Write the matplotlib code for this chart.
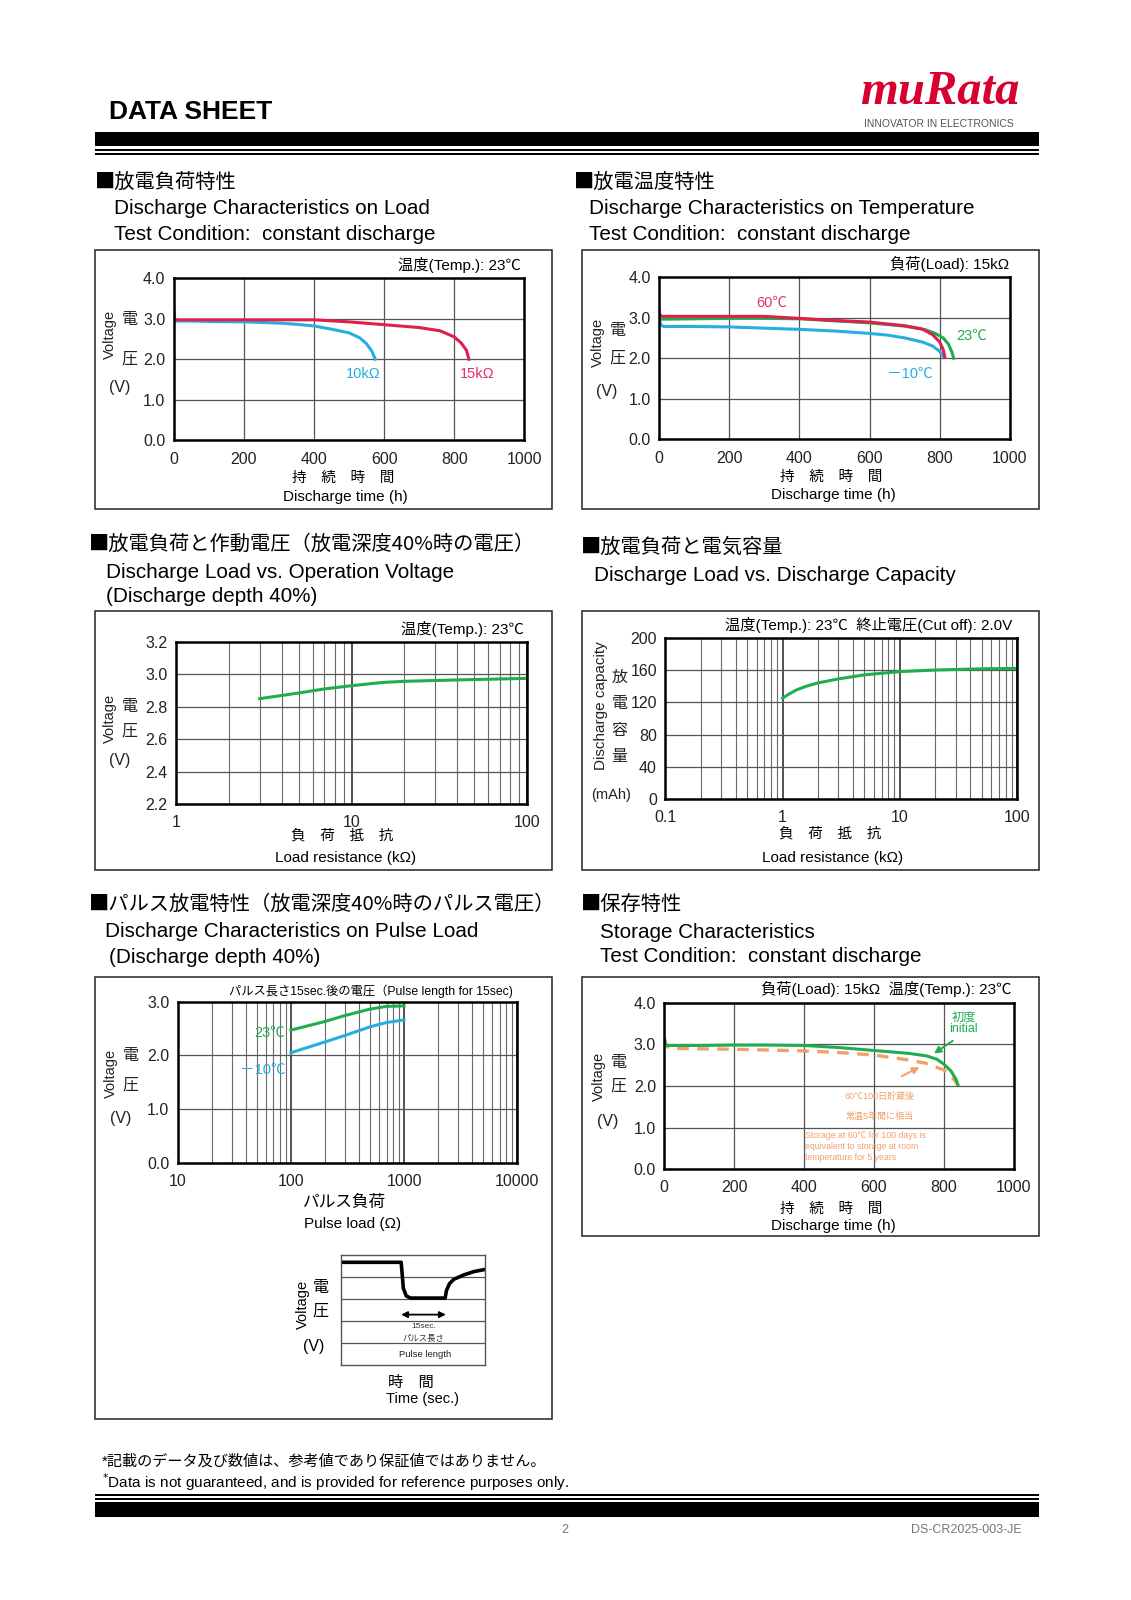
import matplotlib
matplotlib.use("Agg")
import matplotlib.pyplot as plt
from matplotlib.patches import Rectangle
from matplotlib.transforms import ScaledTranslation
from matplotlib.ticker import LogLocator, NullFormatter

plt.rcParams['font.family'] = ['Liberation Sans', 'Noto Sans CJK JP', 'DejaVu Sans']
JP = ['Noto Sans CJK JP', 'Liberation Sans']

# --- data ---
# 放電負荷特性 (23C)
load_10k_t = [0, 3, 50, 100, 200, 300, 350, 400, 450, 500, 530, 550, 565, 575]
load_10k_v = [2.96, 2.94, 2.94, 2.93, 2.92, 2.89, 2.86, 2.82, 2.74, 2.65, 2.53, 2.38, 2.20, 2.00]
load_15k_t = [0, 2, 6, 100, 200, 300, 400, 500, 600, 700, 760, 800, 820, 835, 842]
load_15k_v = [3.22, 3.02, 2.97, 2.97, 2.97, 2.97, 2.97, 2.92, 2.85, 2.78, 2.70, 2.55, 2.40, 2.22, 2.00]

# 放電温度特性 (15kOhm)
temp_60_t = [0, 2, 8, 100, 200, 300, 400, 500, 600, 700, 750, 780, 800, 810, 815]
temp_60_v = [3.18, 3.06, 3.03, 3.03, 3.03, 3.03, 2.98, 2.93, 2.89, 2.80, 2.72, 2.58, 2.40, 2.22, 2.02]
temp_23_t = [0, 5, 100, 200, 300, 400, 500, 600, 700, 760, 790, 810, 825, 835, 840]
temp_23_v = [2.98, 2.96, 2.97, 2.98, 2.98, 2.97, 2.92, 2.87, 2.79, 2.70, 2.60, 2.50, 2.35, 2.15, 2.00]
temp_m10_t = [0, 5, 12, 100, 200, 300, 400, 500, 600, 650, 700, 750, 780, 800, 812]
temp_m10_v = [2.96, 2.82, 2.78, 2.78, 2.77, 2.74, 2.71, 2.67, 2.61, 2.57, 2.50, 2.40, 2.30, 2.17, 2.02]

# 放電負荷と作動電圧
opv_load = [3, 5, 7, 10, 15, 20, 30, 50, 100]
opv_v = [2.85, 2.885, 2.91, 2.93, 2.95, 2.957, 2.962, 2.968, 2.975]

# 放電負荷と電気容量
cap_load = [1.0, 1.1, 1.3, 1.6, 2, 3, 5, 10, 20, 50, 100]
cap_mah = [125, 129, 135, 140, 144, 149, 154, 158, 160, 161.5, 162]

# パルス放電特性
pulse_load = [100, 200, 300, 500, 700, 1000]
pulse_23 = [2.47, 2.63, 2.74, 2.86, 2.91, 2.92]
pulse_m10 = [2.05, 2.25, 2.37, 2.53, 2.61, 2.66]

# pulse waveform sketch (time fraction, row units)
wave_t = [0, 0.415, 0.42, 0.43, 0.45, 0.48, 0.72, 0.73, 0.75, 0.78, 0.85, 0.92, 1.0]
wave_v = [4.67, 4.67, 4.3, 3.5, 3.15, 3.05, 3.05, 3.4, 3.7, 3.9, 4.1, 4.25, 4.35]

# 保存特性
stor_init_t = [0, 3, 10, 100, 200, 300, 400, 500, 600, 700, 750, 780, 800, 820, 835, 840]
stor_init_v = [3.15, 3.0, 2.97, 2.97, 2.98, 2.98, 2.97, 2.92, 2.85, 2.78, 2.72, 2.64, 2.52, 2.36, 2.15, 2.03]
stor_aged_t = [0, 5, 20, 100, 200, 300, 400, 500, 600, 700, 750, 800, 820, 840]
stor_aged_v = [3.15, 2.95, 2.90, 2.89, 2.88, 2.86, 2.84, 2.80, 2.74, 2.62, 2.54, 2.38, 2.25, 2.02]

time_ticks = [0, 200, 400, 600, 800, 1000]
volt_ticks = [0, 1, 2, 3, 4]
volt_labels = ['0.0', '1.0', '2.0', '3.0', '4.0']

CYAN = '#27aee0'
RED = '#df1f4c'
GREEN = '#1fae4f'
ORANGE = '#f2a06a'
TICK = 11.5

W, H = 1131, 1600
S = 1.022  # layout was measured on a slightly shrunk view
fig = plt.figure(figsize=(W / 100, H / 100), dpi=100)


def fx(x):
    return x * S / W


def fy(y):
    return 1 - y * S / H


def txt(x, y, s, size=11, ha='left', va='center', **kw):
    fig.text(fx(x), fy(y), s, fontsize=size, ha=ha, va=va, **kw)


def jtxt(x, y, s, size=14.6, **kw):
    txt(x, y, s, size=size, family=JP, **kw)


def bar(x0, y0, x1, y1):
    fig.add_artist(Rectangle((fx(x0), fy(y1)), (x1 - x0) * S / W, (y1 - y0) * S / H,
                             transform=fig.transFigure, fc='black', ec='none'))


def box(x0, y0, x1, y1):
    fig.add_artist(Rectangle((fx(x0), fy(y1)), (x1 - x0) * S / W, (y1 - y0) * S / H,
                             transform=fig.transFigure, fill=False, lw=1.1, ec='#222222'))


def make_ax(x0, y0, x1, y1):
    ax = fig.add_axes([fx(x0), fy(y1), (x1 - x0) * S / W, (y1 - y0) * S / H])
    for sp in ax.spines.values():
        sp.set_linewidth(1.8)
    ax.tick_params(length=0, labelsize=TICK, pad=6, labelcolor='#222222')
    ax.tick_params(axis='x', pad=8)
    return ax


def lin_grid(ax):
    ax.grid(True, color='#555555', lw=0.9)
    ax.set_axisbelow(True)


def log_grid(ax):
    ax.xaxis.set_minor_locator(LogLocator(base=10, subs=range(2, 10)))
    ax.xaxis.set_minor_formatter(NullFormatter())
    ax.tick_params(which='minor', length=0)
    ax.grid(True, which='major', axis='x', color='#222222', lw=1.1)
    ax.grid(True, which='minor', axis='x', color='#6a6a6a', lw=0.8)
    ax.grid(True, which='major', axis='y', color='#555555', lw=0.9)
    ax.set_axisbelow(True)


def side(ax, s, dx, yv, rot=0, size=11.5):
    tr = ax.get_yaxis_transform() + ScaledTranslation(dx * S / 100, 0, fig.dpi_scale_trans)
    ax.text(0, yv, s, transform=tr, rotation=rot, ha='center', va='center',
            fontsize=size, clip_on=False, color='#222222')


def volt_side(ax, dx, vy, dy, ay, vvy, vsize=10.5):
    side(ax, 'Voltage', dx - 19, vy, rot=90, size=vsize)
    side(ax, '電', dx, dy)
    side(ax, '圧', dx, ay)
    side(ax, '(V)', dx - 10, vvy)


# --- header ---
txt(107, 110, 'DATA SHEET', size=19, weight='bold')
txt(920, 90, 'muRata', size=35, ha='center', color='#d8002e', weight='bold',
    style='italic', family='Liberation Serif')
txt(919, 121, 'INNOVATOR IN ELECTRONICS', size=7.5, ha='center', color='#555555')
bar(93, 129, 1017, 143)
bar(93, 146, 1017, 148)
bar(93, 150, 1017, 152)

# --- section titles ---
EN = 14.9
jtxt(93, 178, '■放電負荷特性')
txt(112, 204, 'Discharge Characteristics on Load', size=EN)
txt(112, 229, 'Test Condition:  constant discharge', size=EN)
jtxt(562, 178, '■放電温度特性')
txt(576, 204, 'Discharge Characteristics on Temperature', size=EN)
txt(576, 229, 'Test Condition:  constant discharge', size=EN)

jtxt(87, 533, '■放電負荷と作動電圧（放電深度40%時の電圧）')
txt(104, 560, 'Discharge Load vs. Operation Voltage', size=EN)
txt(104, 584, '(Discharge depth 40%)', size=EN)
jtxt(568, 536, '■放電負荷と電気容量')
txt(581, 563, 'Discharge Load vs. Discharge Capacity', size=EN)

jtxt(87, 885, '■パルス放電特性（放電深度40%時のパルス電圧）')
txt(103, 911, 'Discharge Characteristics on Pulse Load', size=EN)
txt(107, 937, '(Discharge depth 40%)', size=EN)
jtxt(568, 885, '■保存特性')
txt(587, 912, 'Storage Characteristics', size=EN)
txt(587, 936, 'Test Condition:  constant discharge', size=EN)

# --- frames ---
box(93, 245, 540, 498)
box(569, 245, 1017, 498)
box(93, 598, 540, 851)
box(569, 598, 1017, 851)
box(93, 956, 540, 1388)
box(569, 956, 1017, 1209)

# --- chart 1: discharge on load ---
ax1 = make_ax(170, 272, 513, 431)
ax1.plot(load_10k_t, load_10k_v, color=CYAN, lw=2.2)
ax1.plot(load_15k_t, load_15k_v, color=RED, lw=2.2)
ax1.set_xlim(0, 1000)
ax1.set_ylim(0, 4)
ax1.set_xticks(time_ticks, labels=[str(t) for t in time_ticks])
ax1.set_yticks(volt_ticks, labels=volt_labels)
lin_grid(ax1)
ax1.text(540, 1.64, '10kΩ', color=CYAN, fontsize=10.5, ha='center', va='center')
ax1.text(866, 1.64, '15kΩ', color='#e0306a', fontsize=10.5, ha='center', va='center')
volt_side(ax1, -43, 2.6, 2.98, 2.0, 1.3)
txt(510, 259, '温度(Temp.): 23℃', size=11, ha='right')
txt(336, 468, '持　続　時　間', size=10.5, ha='center')
txt(338, 486, 'Discharge time (h)', size=11, ha='center')

# --- chart 2: discharge on temperature ---
ax2 = make_ax(645, 271, 988, 430)
ax2.plot(temp_m10_t, temp_m10_v, color=CYAN, lw=2.2)
ax2.plot(temp_23_t, temp_23_v, color=GREEN, lw=2.2)
ax2.plot(temp_60_t, temp_60_v, color=RED, lw=2.2)
ax2.set_xlim(0, 1000)
ax2.set_ylim(0, 4)
ax2.set_xticks(time_ticks, labels=[str(t) for t in time_ticks])
ax2.set_yticks(volt_ticks, labels=volt_labels)
lin_grid(ax2)
ax2.text(321, 3.37, '60℃', color='#e0306a', fontsize=10.5, ha='center', va='center')
ax2.text(892, 2.54, '23℃', color=GREEN, fontsize=10.5, ha='center', va='center')
ax2.text(714, 1.61, '－10℃', color=CYAN, fontsize=10.5, ha='center', va='center')
volt_side(ax2, -41, 2.38, 2.67, 2.0, 1.19)
txt(987, 258, '負荷(Load): 15kΩ', size=11, ha='right')
txt(813, 467, '持　続　時　間', size=10.5, ha='center')
txt(815, 484, 'Discharge time (h)', size=11, ha='center')

# --- chart 3: load vs operation voltage ---
ax3 = make_ax(172, 628, 516, 787)
ax3.set_xscale('log')
ax3.plot(opv_load, opv_v, color=GREEN, lw=2.2)
ax3.set_xlim(1, 100)
ax3.set_ylim(2.2, 3.2)
ax3.set_xticks([1, 10, 100], labels=['1', '10', '100'])
ax3.set_yticks([2.2, 2.4, 2.6, 2.8, 3.0, 3.2], labels=['2.2', '2.4', '2.6', '2.8', '3.0', '3.2'])
log_grid(ax3)
volt_side(ax3, -45, 2.73, 2.8, 2.65, 2.47)
txt(512, 615, '温度(Temp.): 23℃', size=11, ha='right')
txt(335, 818, '負　荷　抵　抗', size=10.5, ha='center')
txt(338, 840, 'Load resistance (kΩ)', size=11, ha='center')

# --- chart 4: load vs capacity ---
ax4 = make_ax(651, 624, 995, 782)
ax4.set_xscale('log')
ax4.plot(cap_load, cap_mah, color=GREEN, lw=2.2)
ax4.set_xlim(0.1, 100)
ax4.set_ylim(0, 200)
ax4.set_xticks([0.1, 1, 10, 100], labels=['0.1', '1', '10', '100'])
ax4.set_yticks([0, 40, 80, 120, 160, 200], labels=['0', '40', '80', '120', '160', '200'])
log_grid(ax4)
side(ax4, 'Discharge capacity', -63, 116, rot=90, size=11)
side(ax4, '放', -45, 151)
side(ax4, '電', -45, 118)
side(ax4, '容', -45, 85)
side(ax4, '量', -45, 53)
side(ax4, '(mAh)', -53, 5, size=10.5)
txt(990, 612, '温度(Temp.): 23℃  終止電圧(Cut off): 2.0V', size=11, ha='right')
txt(812, 816, '負　荷　抵　抗', size=10.5, ha='center')
txt(815, 840, 'Load resistance (kΩ)', size=11, ha='center')

# --- chart 5: pulse load ---
ax5 = make_ax(174, 980, 506, 1138)
ax5.set_xscale('log')
ax5.plot(pulse_load, pulse_23, color=GREEN, lw=2.2)
ax5.plot(pulse_load, pulse_m10, color=CYAN, lw=2.2)
ax5.set_xlim(10, 10000)
ax5.set_ylim(0, 3)
ax5.set_xticks([10, 100, 1000, 10000], labels=['10', '100', '1000', '10000'])
ax5.set_yticks([0, 1, 2, 3], labels=['0.0', '1.0', '2.0', '3.0'])
log_grid(ax5)
ax5.text(89, 2.41, '23℃', color=GREEN, fontsize=10.5, ha='right', va='center')
ax5.text(89, 1.73, '－10℃', color=CYAN, fontsize=10.5, ha='right', va='center')
volt_side(ax5, -46, 1.67, 2.0, 1.45, 0.83)
txt(502, 970, 'パルス長さ15sec.後の電圧（Pulse length for 15sec)', size=8.8, ha='right')
txt(337, 1176, 'パルス負荷', size=12, ha='center')
txt(345, 1198, 'Pulse load (Ω)', size=11, ha='center')

# pulse waveform inset
axi = fig.add_axes([fx(334), fy(1336), (475 - 334) * S / W, (1336 - 1228) * S / H])
axi.plot(wave_t, wave_v, color='black', lw=2.6)
axi.set_xlim(0, 1)
axi.set_ylim(0, 5)
axi.set_xticks([])
axi.set_yticks([1, 2, 3, 4])
axi.tick_params(length=0, labelleft=False)
axi.grid(True, axis='y', color='#555555', lw=0.9)
for sp in axi.spines.values():
    sp.set_linewidth(1.0)
    sp.set_color('#555555')
axi.annotate('', xy=(0.415, 2.3), xytext=(0.725, 2.3),
             arrowprops=dict(arrowstyle='<|-|>', color='black', lw=1.3, mutation_scale=9,
                             shrinkA=0, shrinkB=0))
axi.text(0.57, 1.75, '15sec.', fontsize=6, ha='center', va='center', color='#333333')
axi.text(0.57, 1.25, 'パルス長さ', fontsize=6, ha='center', va='center', color='#333333')
axi.text(0.58, 0.5, 'Pulse length', fontsize=6.8, ha='center', va='center', color='#222222')
txt(296, 1276, 'Voltage', size=10.5, ha='center', rotation=90)
txt(314, 1260, '電', size=11.5, ha='center')
txt(314, 1283, '圧', size=11.5, ha='center')
txt(307, 1318, '(V)', size=11.5, ha='center')
txt(402, 1353, '時　間', size=11, ha='center')
txt(413, 1369, 'Time (sec.)', size=10.5, ha='center')

# --- chart 6: storage ---
ax6 = make_ax(650, 981, 992, 1144)
ax6.plot(stor_aged_t, stor_aged_v, color=ORANGE, lw=2.4, ls=(0, (3.5, 2.5)))
ax6.plot(stor_init_t, stor_init_v, color=GREEN, lw=2.2)
ax6.set_xlim(0, 1000)
ax6.set_ylim(0, 4)
ax6.set_xticks(time_ticks, labels=[str(t) for t in time_ticks])
ax6.set_yticks(volt_ticks, labels=volt_labels)
lin_grid(ax6)
ax6.text(857, 3.5, '初度\ninitial', color=GREEN, fontsize=8.8, ha='center', va='center',
         linespacing=1.0)
ax6.annotate('', xy=(765, 2.74), xytext=(832, 3.12),
             arrowprops=dict(arrowstyle='-|>', color=GREEN, lw=1.4, mutation_scale=10))
ax6.annotate('', xy=(737, 2.48), xytext=(672, 2.2),
             arrowprops=dict(arrowstyle='-|>', color=ORANGE, lw=1.4, mutation_scale=10))
ax6.text(615, 1.75, '60℃100日貯蔵後', color=ORANGE, fontsize=6.5, ha='center', va='center')
ax6.text(615, 1.28, '常温5年間に相当', color=ORANGE, fontsize=6.5, ha='center', va='center')
ax6.text(402, 0.80, 'Storage at 60℃ for 100 days is', color=ORANGE, fontsize=6.3, va='center')
ax6.text(402, 0.54, 'equivalent to storage at room', color=ORANGE, fontsize=6.3, va='center')
ax6.text(402, 0.28, 'temperature for 5 years', color=ORANGE, fontsize=6.3, va='center')
volt_side(ax6, -45, 2.23, 2.56, 2.0, 1.15)
txt(990, 968, '負荷(Load): 15kΩ  温度(Temp.): 23℃', size=11, ha='right')
txt(813, 1183, '持　続　時　間', size=10.5, ha='center')
txt(815, 1200, 'Discharge time (h)', size=11, ha='center')

# --- footer ---
txt(100, 1430, '*記載のデータ及び数値は、参考値であり保証値ではありません。', size=10.9)
txt(100, 1450, '$^{*}$Data is not guaranteed, and is provided for reference purposes only.', size=11)
bar(93, 1462, 1017, 1464)
bar(93, 1466, 1017, 1468)
bar(93, 1470, 1017, 1484)
txt(553, 1497, '2', size=9, ha='center', color='#777777')
txt(1000, 1497, 'DS-CR2025-003-JE', size=9, ha='right', color='#777777')

fig.savefig('out.png', dpi=100, facecolor='white')
